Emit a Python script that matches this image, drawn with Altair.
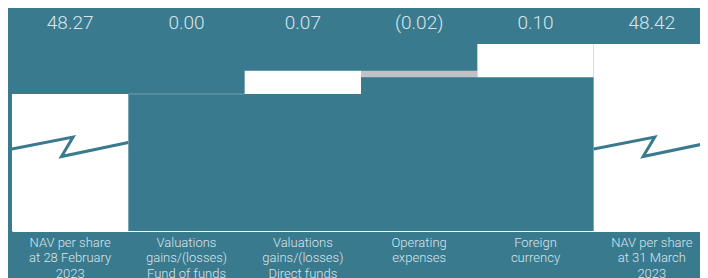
import altair as alt
import pandas as pd

categories = [
    "NAV per share|at 28 February|2023",
    "Valuations|gains/(losses)|Fund of funds",
    "Valuations|gains/(losses)|Direct funds",
    "Operating|expenses",
    "Foreign|currency",
    "NAV per share|at 31 March|2023",
]
values = [48.27, 0.00, 0.07, -0.02, 0.10, 48.42]
is_total = [True, False, False, False, False, True]

y_min, y_max = 47.859, 48.528

# break-symbol (zigzag) points: band index + fraction, value
zz_group = [0, 0, 0, 0, 1, 1, 1, 1]
zz_order = [0, 1, 2, 3, 0, 1, 2, 3]
zz_x = [0.0, 0.525, 0.425, 1.0, 5.0, 5.525, 5.425, 6.0]
zz_y = [48.105, 48.141, 48.0825, 48.1245, 48.105, 48.141, 48.0825, 48.1245]

TEAL = "#3a7a8f"
TXT = "#d9e5ea"
X_RANGE = [0, 698]

rows = []
run = 0.0
for c, v, t in zip(categories, values, is_total):
    if t:
        start, end = y_min, v
        run = v
        kind = "total"
    else:
        start, end = run, run + v
        run = end
        kind = "zero" if v == 0 else ("up" if v > 0 else "down")
    label = f"({abs(v):.2f})" if v < 0 else f"{v:.2f}"
    rows.append(dict(cat=c, start=start, end=end, kind=kind, label=label))
df = pd.DataFrame(rows)

zz = pd.DataFrame(dict(g=zz_group, o=zz_order, x=zz_x, y=zz_y))

xscale = alt.Scale(paddingInner=0, paddingOuter=0, range=X_RANGE)
xenc = alt.X(
    "cat:N",
    sort=categories,
    scale=xscale,
    axis=alt.Axis(
        title=None,
        labelAngle=0,
        labelExpr="split(datum.label, '|')",
        labelColor=TXT,
        labelFont="Roboto",
        labelFontWeight=300,
        labelFontSize=13,
        labelLineHeight=15.5,
        labelPadding=5,
        labelBaseline="top",
        ticks=False,
        domain=True,
        domainColor="white",
        domainWidth=1,
        grid=False,
    ),
)
yscale = alt.Scale(domain=[y_min, y_max], nice=False, zero=False)

bars = alt.Chart(df).mark_bar(stroke="#5f93a4").encode(
    x=xenc,
    y=alt.Y("start:Q", scale=yscale, axis=None),
    y2="end:Q",
    color=alt.Color(
        "kind:N",
        scale=alt.Scale(domain=["total", "up", "down", "zero"],
                        range=["white", "white", "#c0c2c5", TEAL]),
        legend=None,
    ),
    strokeWidth=alt.condition("datum.kind == 'zero'", alt.value(1), alt.value(0)),
)

labels = alt.Chart(df).mark_text(
    font="Roboto", fontWeight=300, fontSize=19, color=TXT, baseline="alphabetic"
).encode(
    x=alt.X("cat:N", sort=categories, scale=xscale, axis=None),
    y=alt.value(21),
    text="label:N",
)

zig = alt.Chart(zz).mark_line(color=TEAL, strokeWidth=3, strokeJoin="miter").encode(
    x=alt.X("x:Q", scale=alt.Scale(domain=[0, 6], nice=False, zero=False, range=X_RANGE), axis=None),
    y=alt.Y("y:Q", scale=yscale, axis=None),
    detail="g:N",
    order="o:Q",
)

chart = (
    alt.layer(bars, labels, zig)
    .resolve_scale(x="independent")
    .properties(
        width=688,
        height=223,
        background=TEAL,
        padding={"left": 4, "top": 0, "right": 0, "bottom": 47},
        autosize=alt.AutoSizeParams(type="none"),
    )
    .configure_view(stroke=None)
)

chart.save("out.html", embed_options={"renderer": "svg", "actions": False})
